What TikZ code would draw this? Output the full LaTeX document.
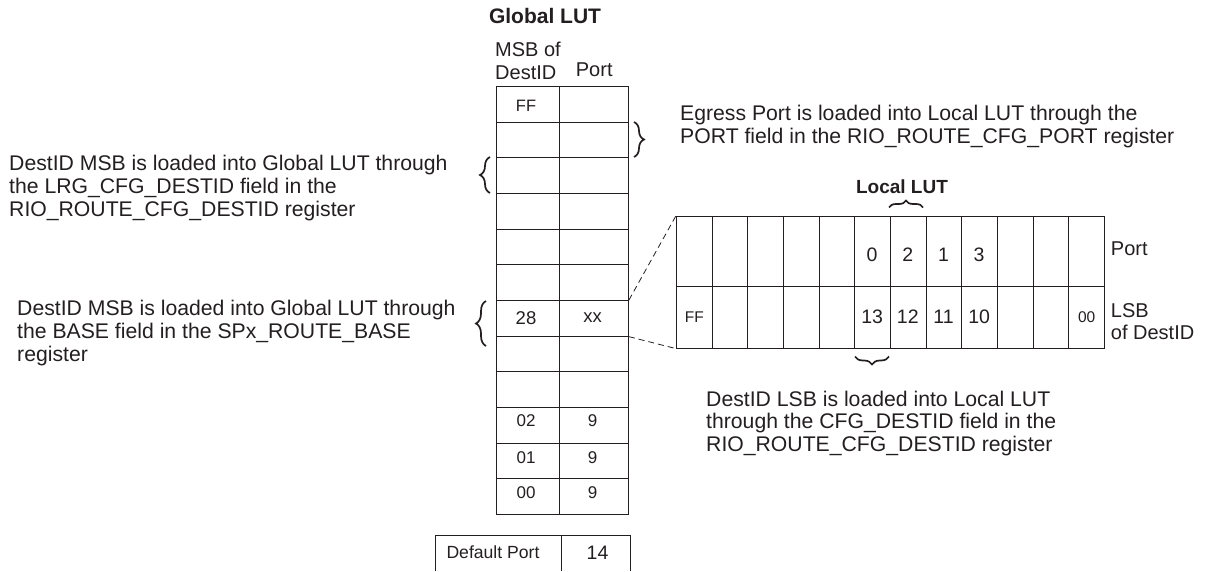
\documentclass[tikz,border=0pt]{standalone}
\usepackage{fontspec}
\setmainfont{Liberation Sans}
\usepackage{tikz}
\usetikzlibrary{decorations.pathreplacing}
\definecolor{LutInk}{RGB}{35,31,32}
\newcommand{\lutfont}[1]{\fontsize{#1}{#1}\selectfont}

\begin{document}
\begin{tikzpicture}[x=1pt,y=-1pt,every node/.style={text=LutInk},cell/.style n args={2}{draw=LutInk,line width=0.9pt,rectangle,inner sep=0pt,anchor=north west,minimum width=#1pt,minimum height=#2pt},lbl/.style={inner sep=0pt,font=\lutfont{#1}},note/.style={anchor=north west,inner sep=0pt,align=left,font=\fontsize{21.2}{22.8}\selectfont},ttl/.style={anchor=north,inner sep=0pt,font=\bfseries\lutfont{#1}},brc/.style={decorate,decoration={brace,amplitude=#1pt},line width=1.7pt,draw=LutInk},dsh/.style={draw=LutInk,line width=0.8pt,dash pattern=on 6pt off 4pt}]
\useasboundingbox (0,0) rectangle (1210,571);
\node[ttl=21] (gt) at (545,8.3) {Global LUT};
\node[note,font=\fontsize{20}{23.3}\selectfont] (hm) at (495,41.7) {MSB of\\DestID};
\node[note,font=\fontsize{20}{23.3}\selectfont] (hp) at (575.7,63) {Port};
\foreach \x in {0,...,11} {
   \node[cell={63.3}{35.68}] (ga\x) at (495.7,86+35.68*\x) {};
   \node[cell={69}{35.68}] (gb\x) at (559,86+35.68*\x) {};
}
\foreach \x/\y/\1/\2/\s in %
{0/106/FF//16.5,6/318/28/xx/18.5,9/421/02/9/17,10/457.5/01/9/17,11/493/00/9/17} {
   \node[lbl=\s] (ta\x) at (526,\y) {\1};
   \node[lbl=\s] (tb\x) at (592.5,\y) {\2};
}
\node[ttl=19] (lt) at (902,179.3) {Local LUT};
\foreach \x in {0,...,11} {
   \node[cell={35.67}{70}] (pc\x) at (676+35.67*\x,215.7) {};
   \node[cell={35.67}{62}] (dc\x) at (676+35.67*\x,285.7) {};
}
\foreach \x/\1/\2 in %
{5/0/13,6/2/12,7/1/11,8/3/10} {
   \node[lbl=19.5] (pn\x) at (693.8+35.67*\x,255) {\1};
   \node[lbl=19.5] (dn\x) at (693.8+35.67*\x,316.5) {\2};
}
\node[lbl=15.5] (dn0) at (dc0) {FF};
\node[lbl=15.5] (dn11) at (dc11) {00};
\node[note,font=\fontsize{20}{21.7}\selectfont] (lp) at (1110.7,241.7) {Port};
\node[note,font=\fontsize{20}{21.7}\selectfont] (ll) at (1110.7,303.3) {LSB\\of DestID};
\draw[dsh] (gb6.north east) -- (pc0.north west);
\draw[dsh] (gb6.south east) -- (dc0.south west);
\draw[brc=10] (634,122) -- (634,157);
\draw[brc=10] (490,193) -- (490,157);
\draw[brc=10] (486,346) -- (486,301);
\draw[brc=7] (889,207.5) -- (923,207.5);
\draw[brc=8] (889,356.5) -- (855,356.5);
\node[note] (nt1) at (9,155) {DestID MSB is loaded into Global LUT through\\the LRG\_CFG\_DESTID field in the\\RIO\_ROUTE\_CFG\_DESTID register};
\node[note] (nt2) at (17,300) {DestID MSB is loaded into Global LUT through\\the BASE field in the SPx\_ROUTE\_BASE\\register};
\node[note] (nt3) at (680,105) {Egress Port is loaded into Local LUT through the\\PORT field in the RIO\_ROUTE\_CFG\_PORT register};
\node[note] (nt4) at (706,390.5) {DestID LSB is loaded into Local LUT\\through the CFG\_DESTID field in the\\RIO\_ROUTE\_CFG\_DESTID register};
\draw[draw=LutInk,line width=0.9pt] (435,571) |- (630.7,535) -- (630.7,571);
\draw[draw=LutInk,line width=0.9pt] (561.7,535) -- (561.7,571);
\node[lbl=17.6] (dp) at (493,552.5) {Default Port};
\node[lbl=19.5] (dv) at (597.5,553) {14};
\end{tikzpicture}
\end{document}
